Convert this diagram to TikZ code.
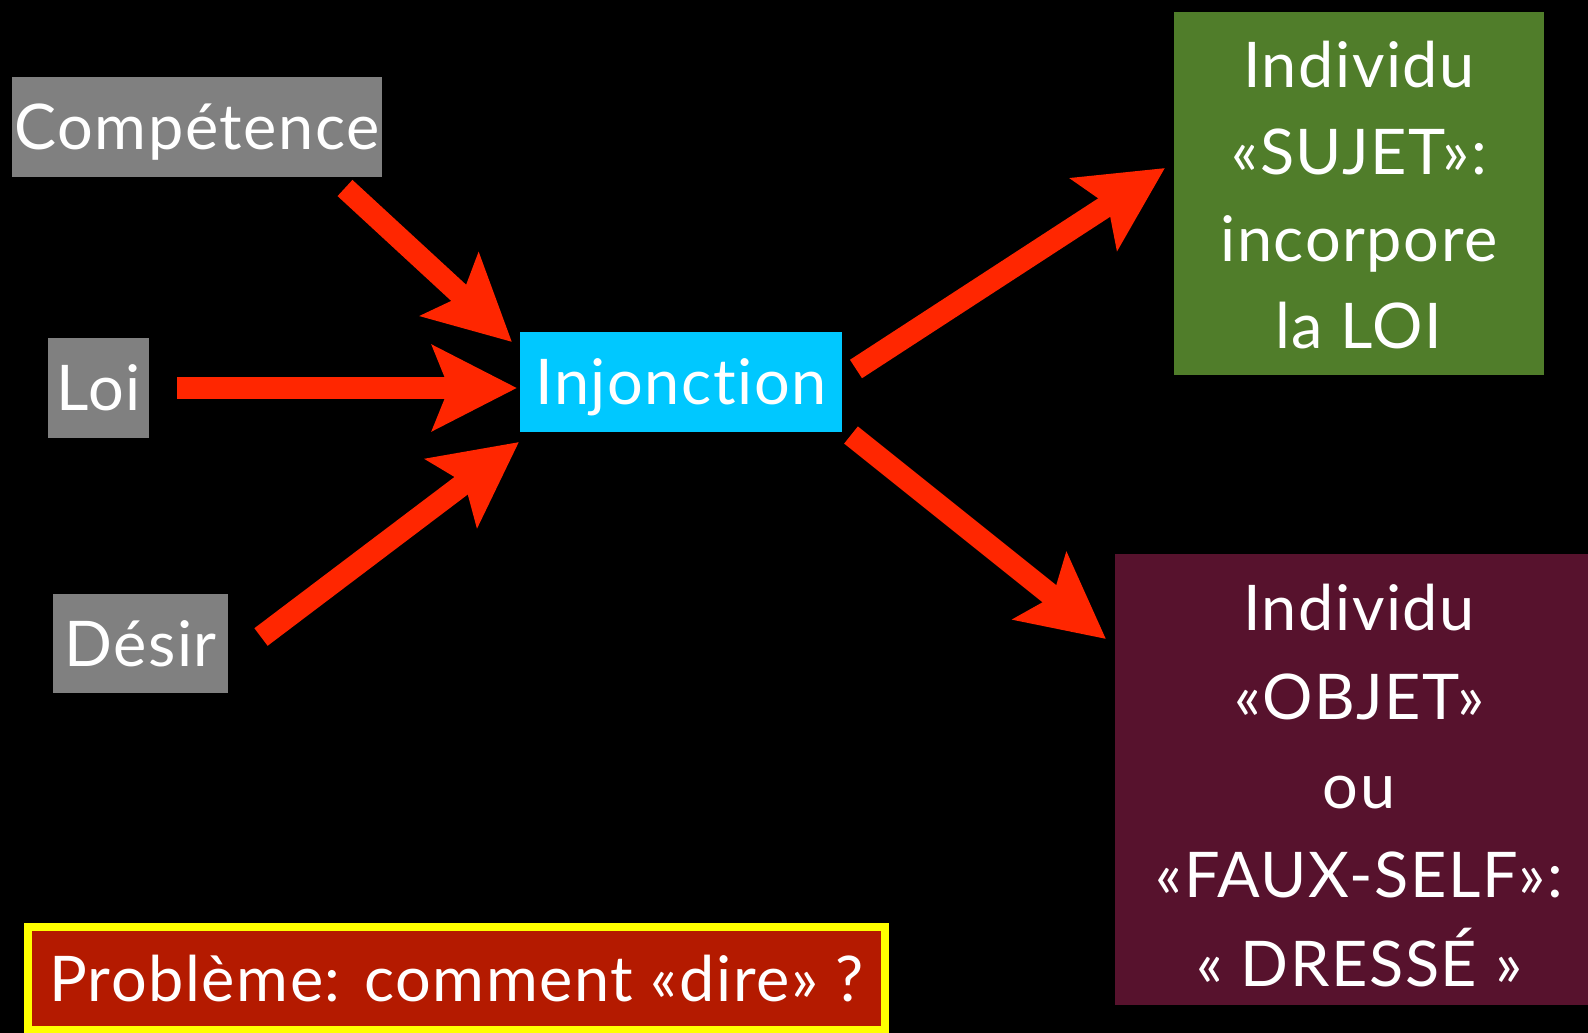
\documentclass[tikz,border=0pt]{standalone}
\usepackage{fontspec}
\setmainfont{Lato}[Ligatures={NoCommon,NoRare,NoDiscretionary},LetterSpace=2.5]
\usetikzlibrary{arrows.meta}
\definecolor{boxgray}{RGB}{128,128,128}
\definecolor{injcyan}{RGB}{0,200,255}
\definecolor{sujetgreen}{RGB}{80,125,42}
\definecolor{objetmaroon}{RGB}{87,18,45}
\definecolor{arrowred}{RGB}{255,38,0}
\definecolor{probred}{RGB}{180,26,0}
\definecolor{probyellow}{RGB}{255,255,0}
\begin{document}
\begin{tikzpicture}[x=1pt,y=-1pt,
  lbl/.style={font=\fontsize{63}{87}\selectfont, text=white, inner sep=0pt},
  onebox/.style={lbl, text height=45pt, text depth=0pt, anchor=center},
  bigarrow/.style={draw=arrowred, line width=22pt, -{Stealth[length=84pt,width=84pt,inset=16pt]}}]
\useasboundingbox (0,0) rectangle (1588,1033);
\fill[black] (0,0) rectangle (1588,1033);

\node[onebox, fill=boxgray, minimum width=370pt, minimum height=100pt] (comp) at (197,127) {Compétence};
\node[onebox, fill=boxgray, minimum width=101pt, minimum height=100pt] (loi) at (98.5,388) {Loi};
\node[onebox, fill=boxgray, minimum width=175pt, minimum height=99pt] (desir) at (140.5,643.5) {Désir};
\node[onebox, fill=injcyan, minimum width=322pt, minimum height=100pt] (inj) at (681,382) {Injonction};

\node[fill=sujetgreen, minimum width=370pt, minimum height=363pt, inner sep=0pt] (sujet) at (1359,193.5) {};
\node[lbl, anchor=base] (sujettext) at (1359,88) {\begin{tabular}[t]{@{}c@{}}Individu\\«SUJET»:\\incorpore\\la LOI\end{tabular}};

\node[fill=objetmaroon, minimum width=480pt, minimum height=451pt, inner sep=0pt] (objet) at (1355,779.5) {};
\node[lbl, font=\fontsize{63}{89}\selectfont, anchor=base] (objettext) at (1359,630) {\begin{tabular}[t]{@{}c@{}}Individu\\«OBJET»\\ou\\«FAUX-SELF»:\\« DRESSÉ »\end{tabular}};

\node[onebox, draw=probyellow, line width=8pt, fill=probred, minimum width=857pt, minimum height=103pt] (prob) at (456.5,978.5) {Problème: comment «dire» ?};

\coordinate (c1t) at (345,188); \coordinate (c1h) at (512,342);
\coordinate (l1t) at (177,388); \coordinate (l1h) at (517,388);
\coordinate (d1t) at (261,637); \coordinate (d1h) at (519,442);
\coordinate (s1t) at (856,369); \coordinate (s1h) at (1165,168);
\coordinate (o1t) at (851,435); \coordinate (o1h) at (1106,639);
\draw[bigarrow] (c1t) -- (c1h);
\draw[bigarrow] (l1t) -- (l1h);
\draw[bigarrow] (d1t) -- (d1h);
\draw[bigarrow] (s1t) -- (s1h);
\draw[bigarrow] (o1t) -- (o1h);
\end{tikzpicture}
\end{document}
